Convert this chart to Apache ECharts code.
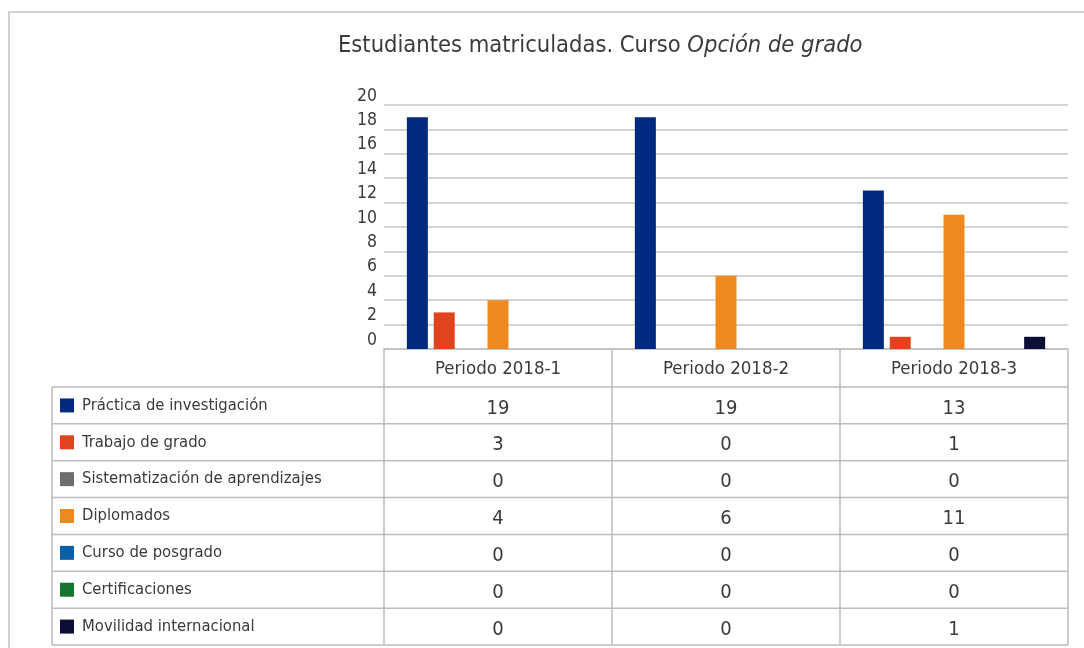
<!DOCTYPE html>
<html>
<head>
<meta charset="utf-8">
<script src="https://cdn.jsdelivr.net/npm/echarts@6/dist/echarts.min.js"></script>
<style>
  html, body { margin: 0; padding: 0; background: #fff; }
  #chart { width: 1084px; height: 648px; }
</style>
</head>
<body>
<div id="chart"></div>
<script>
// datos
const categories = ["Periodo 2018-1", "Periodo 2018-2", "Periodo 2018-3"];
const seriesNames = [
  "Práctica de investigación",
  "Trabajo de grado",
  "Sistematización de aprendizajes",
  "Diplomados",
  "Curso de posgrado",
  "Certificaciones",
  "Movilidad internacional"
];
const practica = [19, 19, 13];
const trabajo = [3, 0, 1];
const sistematizacion = [0, 0, 0];
const diplomados = [4, 6, 11];
const posgrado = [0, 0, 0];
const certificaciones = [0, 0, 0];
const movilidad = [0, 0, 1];
const allValues = [practica, trabajo, sistematizacion, diplomados, posgrado, certificaciones, movilidad];
const colors = ["#00297f", "#e1441c", "#6e6e6e", "#ee8a1f", "#0b5ea8", "#17752f", "#0b0f38"];

const FONT = "'DejaVu Sans Condensed', 'Liberation Sans Narrow', 'Liberation Sans', sans-serif";
const TXT = "#3a3a3a";
const LINE = "#bdbdbd";

// layout
const gridLeft = 384, gridRightX = 1068, gridTop = 105, gridBottomY = 349;
const tableLeft = 52, rowTop = 387, tableBottom = 645;
const rowH = (tableBottom - rowTop) / seriesNames.length;
const colW = (gridRightX - gridLeft) / categories.length;

const graphics = [];
// marco exterior
graphics.push({
  type: "rect",
  shape: { x: 9, y: 12, width: 1100, height: 700 },
  style: { fill: null, stroke: "#c4c4c4", lineWidth: 1.5 },
  silent: true
});
// lineas de la tabla
for (let i = 0; i <= seriesNames.length; i++) {
  const y = rowTop + i * rowH;
  graphics.push({
    type: "line",
    shape: { x1: tableLeft, y1: y, x2: gridRightX, y2: y },
    style: { stroke: LINE, lineWidth: 1.5 }
  });
}
graphics.push({
  type: "line",
  shape: { x1: tableLeft, y1: rowTop, x2: tableLeft, y2: tableBottom },
  style: { stroke: LINE, lineWidth: 1.5 }
});
for (let c = 0; c <= categories.length; c++) {
  const x = gridLeft + c * colW;
  graphics.push({
    type: "line",
    shape: { x1: x, y1: gridBottomY, x2: x, y2: tableBottom },
    style: { stroke: LINE, lineWidth: 1.5 }
  });
}
// filas
seriesNames.forEach((name, r) => {
  const cy = rowTop + r * rowH + rowH / 2;
  graphics.push({
    type: "rect",
    shape: { x: 60, y: cy - 7, width: 14, height: 14 },
    style: { fill: colors[r] }
  });
  graphics.push({
    type: "text",
    x: 82, y: cy,
    style: { text: name, font: "16.5px " + FONT, fill: TXT, textVerticalAlign: "middle" }
  });
  allValues[r].forEach((v, c) => {
    graphics.push({
      type: "text",
      x: gridLeft + c * colW + colW / 2, y: cy + 3,
      style: { text: String(v), font: "20px " + FONT, fill: TXT, textAlign: "center", textVerticalAlign: "middle" }
    });
  });
});

const chart = echarts.init(document.getElementById("chart"));
chart.setOption({
  animation: false,
  title: {
    text: "Estudiantes matriculadas. Curso {i|Opción de grado}",
    left: 333,
    top: 29,
    textStyle: {
      fontFamily: FONT,
      fontSize: 23.5,
      fontWeight: "normal",
      color: TXT,
      rich: {
        i: { fontFamily: FONT, fontSize: 23.5, fontStyle: "italic", color: TXT }
      }
    }
  },
  grid: {
    left: gridLeft,
    right: 1084 - gridRightX,
    top: gridTop,
    bottom: 648 - gridBottomY,
    containLabel: false
  },
  xAxis: {
    type: "category",
    data: categories,
    axisLine: { show: true, lineStyle: { color: LINE, width: 1.5 } },
    axisTick: { show: false },
    axisLabel: { fontFamily: FONT, fontSize: 18.5, color: TXT, margin: 11 }
  },
  yAxis: {
    type: "value",
    min: 0,
    max: 20,
    interval: 2,
    axisLine: { show: false },
    axisTick: { show: false },
    splitLine: { lineStyle: { color: "#c6c6c6", width: 1.5 } },
    axisLabel: { fontFamily: FONT, fontSize: 17.5, color: TXT, margin: 7, verticalAlign: "bottom", padding: [0, 0, 0, 0] }
  },
  series: seriesNames.map((name, i) => ({
    name: name,
    type: "bar",
    data: allValues[i],
    barWidth: 21,
    barGap: "28%",
    itemStyle: { color: colors[i] }
  })),
  graphic: graphics
});
</script>
</body>
</html>
